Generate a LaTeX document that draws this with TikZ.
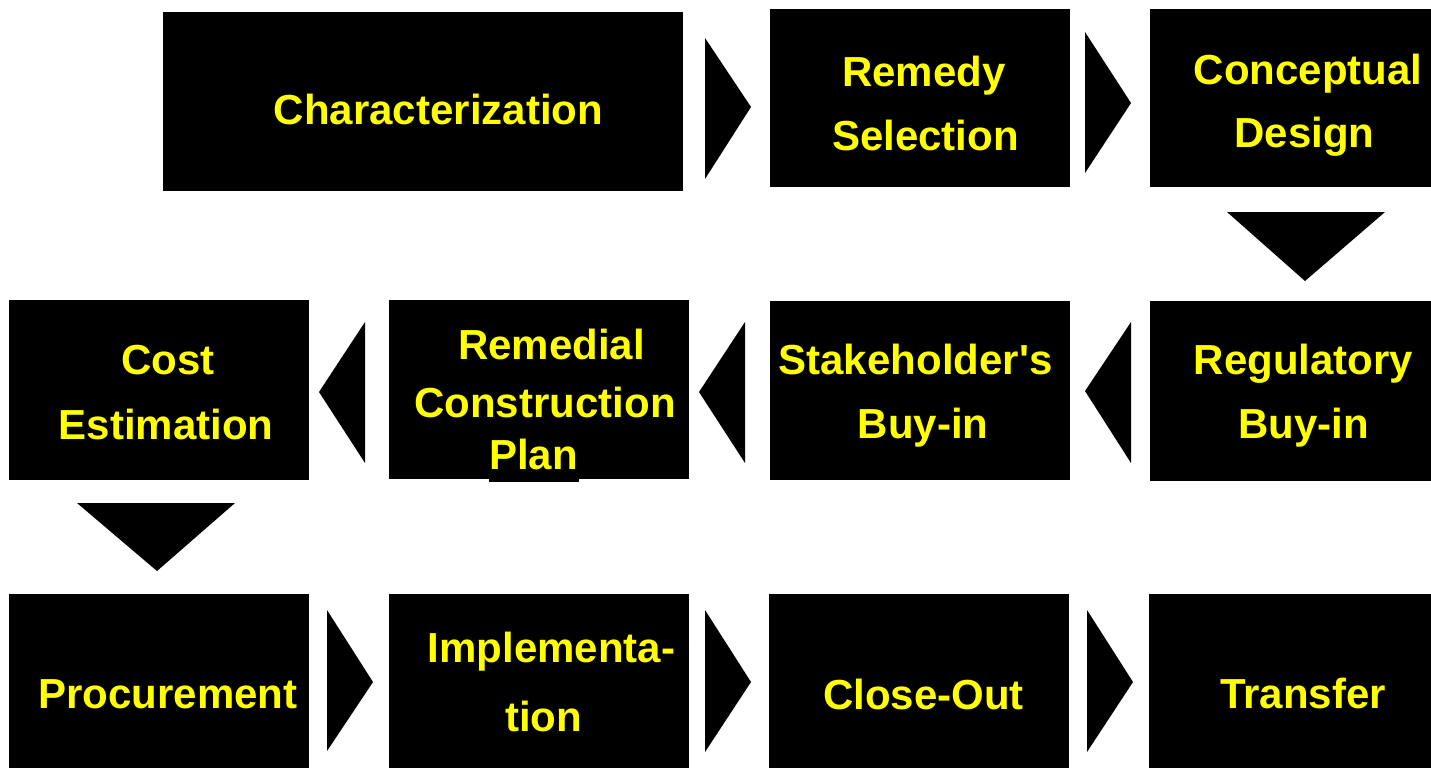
\documentclass[tikz,border=0pt]{standalone}
\usepackage{fontspec}
\setmainfont{Liberation Sans}
\usepackage{tikz}
\usetikzlibrary{positioning}
\definecolor{lblyellow}{RGB}{255,255,0}
\tikzset{box/.style = {fill=black, draw=none, inner sep=0, anchor=north west}}
\tikzset{lbl/.style = {text=lblyellow, inner sep=0, anchor=base,
                       font=\fontsize{42}{50}\selectfont\bfseries}}
\tikzset{tri/.style = {fill=black}}

\begin{document}
\begin{tikzpicture}[x=1pt, y=-1pt]
    \useasboundingbox (0, 0) rectangle (1431, 768);

    % first row
    \node [box, minimum width=520, minimum height=179] (char) at (163, 12) {};
    \node [box, minimum width=300, minimum height=178] (remsel) at (770, 9) {};
    \node [box, minimum width=281, minimum height=178] (concept) at (1150, 9) {};
    \node [lbl] (charlbl) at (438.5, 124) {Characterization};
    \node [lbl] (remsel1) at (924, 86) {Remedy};
    \node [lbl] (remsel2) at (925.5, 150) {Selection};
    \node [lbl] (concept1) at (1308, 84) {Conceptual};
    \node [lbl] (concept2) at (1304.5, 147) {Design};

    \fill [tri] (705, 38) -- (751, 107) -- (705, 179) -- cycle;
    \fill [tri] (1085, 32) -- (1131, 103) -- (1085, 173) -- cycle;
    \fill [tri] (1227, 212) -- (1385, 212) -- (1305, 281) -- cycle;

    % second row
    \node [box, minimum width=300, minimum height=180] (cost) at (9, 300) {};
    \node [box, minimum width=300, minimum height=179] (rcp) at (389, 300) {};
    \fill (489, 478) rectangle (579, 482);
    \node [box, minimum width=300, minimum height=179] (stake) at (770, 301) {};
    \node [box, minimum width=281, minimum height=180] (regul) at (1150, 301) {};
    \node [lbl] (cost1) at (168, 374) {Cost};
    \node [lbl] (cost2) at (166, 439) {Estimation};
    \node [lbl] (rcp1) at (551.5, 359) {Remedial};
    \node [lbl] (rcp2) at (545, 417) {Construction};
    \node [lbl] (rcp3) at (533.5, 469) {Plan};
    \node [lbl] (stake1) at (915.5, 374) {Stakeholder\textquotesingle s};
    \node [lbl] (stake2) at (923, 438) {Buy-in};
    \node [lbl] (regul1) at (1303.5, 374) {Regulatory};
    \node [lbl] (regul2) at (1303.5, 438) {Buy-in};

    \fill [tri] (1131, 322) -- (1085, 391) -- (1131, 463) -- cycle;
    \fill [tri] (745, 322) -- (699, 392) -- (745, 463) -- cycle;
    \fill [tri] (365, 322) -- (319, 392) -- (365, 463) -- cycle;
    \fill [tri] (77, 503) -- (235, 503) -- (157, 571) -- cycle;

    % third row
    \node [box, minimum width=300, minimum height=174] (procure) at (9, 594) {};
    \node [box, minimum width=300, minimum height=174] (implem) at (389, 594) {};
    \node [box, minimum width=300, minimum height=174] (close) at (769, 594) {};
    \node [box, minimum width=282, minimum height=174] (transf) at (1149, 594) {};
    \node [lbl] (procure1) at (168, 708) {Procurement};
    \node [lbl] (implem1) at (551.5, 662) {Implementa-};
    \node [lbl] (implem2) at (543.5, 731) {tion};
    \node [lbl] (close1) at (923.5, 709) {Close-Out};
    \node [lbl] (transf1) at (1303, 708) {Transfer};

    \fill [tri] (327, 610) -- (373, 682) -- (327, 751) -- cycle;
    \fill [tri] (705, 610) -- (751, 682) -- (705, 752) -- cycle;
    \fill [tri] (1087, 610) -- (1133, 682) -- (1087, 752) -- cycle;

  \end{tikzpicture}
\end{document}
